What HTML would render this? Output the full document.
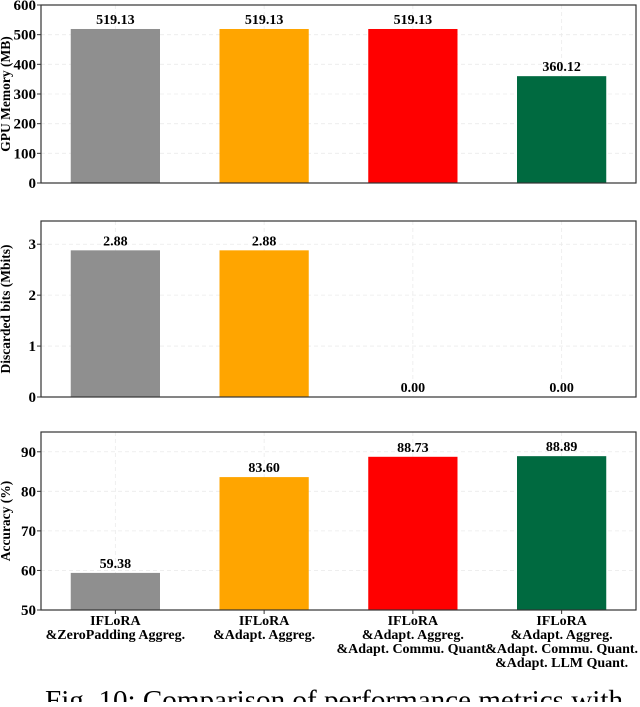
<!DOCTYPE html>
<html><head><meta charset="utf-8"><style>
body{margin:0;background:#fff;width:640px;height:702px;overflow:hidden}
svg text{font-family:"Liberation Serif",serif;font-weight:bold}
</style></head><body>
<svg id="chart" width="640" height="702" xmlns="http://www.w3.org/2000/svg">
<text x="45" y="709" font-size="27" textLength="578" lengthAdjust="spacingAndGlyphs" style="font-weight:normal">Fig. 10: Comparison of performance metrics with</text>
</svg>
<script>
const categories = [["IFLoRA","&ZeroPadding Aggreg."],["IFLoRA","&Adapt. Aggreg."],["IFLoRA","&Adapt. Aggreg.","&Adapt. Commu. Quant."],["IFLoRA","&Adapt. Aggreg.","&Adapt. Commu. Quant.","&Adapt. LLM Quant."]];
const colors = ["#8f8f8f","#ffa500","#ff0000","#006a40"];
const gpuMemory = [519.13,519.13,519.13,360.12];
const discardedBits = [2.88,2.88,0.00,0.00];
const accuracy = [59.38,83.60,88.73,88.89];
const gpuTicks = [0,100,200,300,400,500,600];
const bitsTicks = [0,1,2,3];
const accTicks = [50,60,70,80,90];

const svg = document.getElementById('chart');
const NS = "http://www.w3.org/2000/svg";
const L = 41, R = 636;
function mk(tag, attrs){const e=document.createElementNS(NS,tag);for(const k in attrs)e.setAttribute(k,attrs[k]);svg.appendChild(e);return e;}

function panel(name, values, ticks, ymin, ymax, top, bottom, label, showX){
  const y = v => bottom - (v - ymin)/(ymax - ymin)*(bottom - top);
  const step = (R-L)/4;
  const x = i => L + step*(i+0.5);
  ticks.forEach(t=>{
    const g = mk('line',{x1:L,x2:R,y1:y(t),y2:y(t),stroke:'#ebebeb','stroke-dasharray':'4,3','stroke-width':0.8});
    
    
  });
  values.forEach((v,i)=>{
    const g = mk('line',{x1:x(i),x2:x(i),y1:top,y2:bottom,stroke:'#ebebeb','stroke-dasharray':'4,3','stroke-width':0.8});
    
    
  });
  const bw = step*0.6;
  values.forEach((v,i)=>{
    const b = mk('rect',{x:x(i)-bw/2,y:y(v),width:bw,height:Math.max(0,bottom-y(v)),fill:colors[i]});
    
    
    const t = mk('text',{x:x(i),y:y(v)-5,'text-anchor':'middle','font-size':14});
    t.textContent = v.toFixed(2);
    
    
  });
  const f = mk('rect',{x:L,y:top,width:R-L,height:bottom-top,fill:'none',stroke:'#333','stroke-width':1.2});
  
  
  ticks.forEach(t=>{
    mk('line',{x1:L-4,x2:L,y1:y(t),y2:y(t),stroke:'#333'});
    const tx = mk('text',{x:L-5,y:y(t)+5,'text-anchor':'end','font-size':15});
    tx.textContent = t;
    
    
  });
  const yl = mk('text',{x:0,y:0,'text-anchor':'middle','font-size':13.5,transform:`translate(10,${(top+bottom)/2}) rotate(-90)`});
  yl.textContent = label;
  
  
  if(showX){
    categories.forEach((c,i)=>{
      mk('line',{x1:x(i),x2:x(i),y1:bottom,y2:bottom+4,stroke:'#333'});
      c.forEach((ln,j)=>{
        const tx = mk('text',{x:x(i),y:bottom+15+j*14,'text-anchor':'middle','font-size':14});
        tx.textContent = ln;
        
        
      });
    });
  }
}
panel('gpu-memory', gpuMemory, gpuTicks, 0, 600, 5, 183, 'GPU Memory (MB)', false);
panel('discarded-bits', discardedBits, bitsTicks, 0, 3.456, 221, 397, 'Discarded bits (Mbits)', false);
panel('accuracy', accuracy, accTicks, 50, 95, 432, 610, 'Accuracy (%)', true);
</script>
</body></html>
